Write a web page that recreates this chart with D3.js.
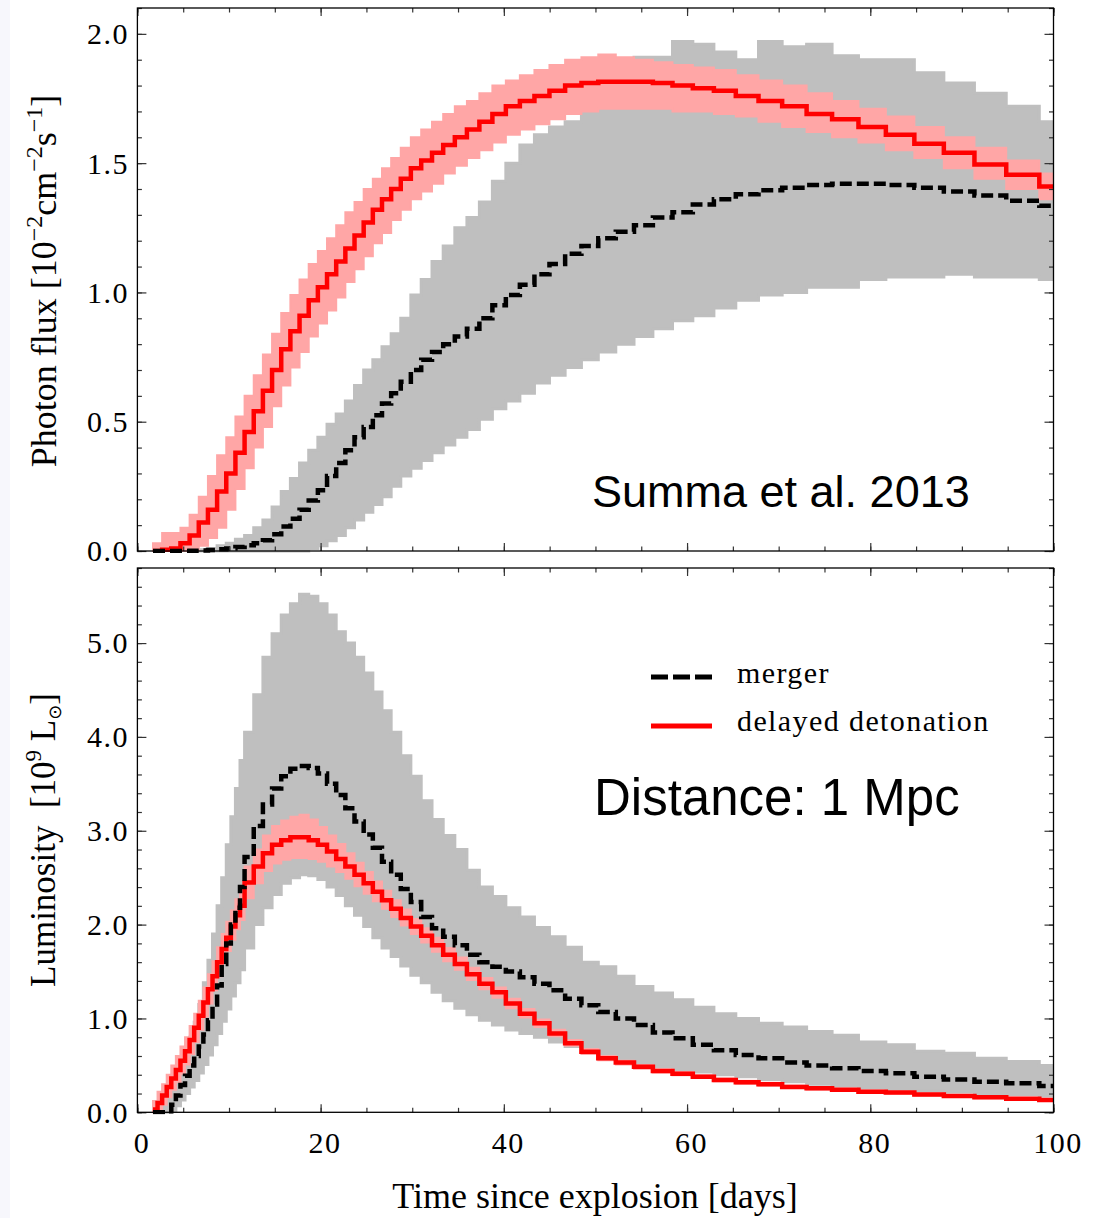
<!DOCTYPE html>
<html>
<head>
<meta charset="utf-8">
<script src="https://d3js.org/d3.v7.min.js"></script>
<style>
  body { margin: 0; background: #fff; }
  svg { display: block; }
  .serif { font-family: 'Liberation Serif', 'Times New Roman', serif; }
  .sans { font-family: 'Liberation Sans', Arial, sans-serif; }
</style>
</head>
<body>
<div id="chart"></div>
<script>
// time bin edges [days] of the step curves, top panel
var fluxEdges = [1.7, 2.7, 3.7, 4.7, 5.7, 6.7, 7.7, 8.7, 9.7, 10.7,
  11.7, 12.7, 13.7, 14.7, 15.7, 16.7, 17.7, 18.7, 19.7, 20.7,
  21.7, 22.7, 23.7, 24.7, 25.7, 26.7, 27.7, 28.75, 29.85, 30.98,
  32.16, 33.38, 34.65, 35.97, 37.33, 38.75, 40.22, 41.75, 43.34, 44.98,
  46.69, 48.47, 50.31, 52.22, 54.21, 56.27, 58.41, 60.63, 62.93, 65.32,
  67.80, 70.38, 73.05, 75.83, 78.71, 81.70, 84.81, 88.03, 91.37, 94.84,
  98.45, 102.19];

// bottom panel: finer bins during the early rise
var lumEdges = [1.7, 2.2, 2.7, 3.2, 3.7, 4.2, 4.7, 5.2, 5.7, 6.2,
  6.7, 7.2, 7.7, 8.2, 8.7, 9.2, 9.7, 10.2, 10.7, 11.2,
  11.7, 12.7, 13.7, 14.7, 15.7, 16.7, 17.7, 18.7, 19.7, 20.7,
  21.7, 22.7, 23.7, 24.7, 25.7, 26.7, 27.7, 28.75, 29.85, 30.98,
  32.16, 33.38, 34.65, 35.97, 37.33, 38.75, 40.22, 41.75, 43.34, 44.98,
  46.69, 48.47, 50.31, 52.22, 54.21, 56.27, 58.41, 60.63, 62.93, 65.32,
  67.80, 70.38, 73.05, 75.83, 78.71, 81.70, 84.81, 88.03, 91.37, 94.84,
  98.45, 102.19];

// top panel: photon flux [1e-2 cm^-2 s^-1]
var fluxDdtMean = [0.00, 0.005, 0.01, 0.03, 0.06, 0.11, 0.16, 0.23, 0.30, 0.38,
  0.46, 0.54, 0.62, 0.70, 0.78, 0.85, 0.91, 0.97, 1.02, 1.07,
  1.12, 1.17, 1.22, 1.27, 1.32, 1.36, 1.40, 1.44, 1.48, 1.51,
  1.54, 1.57, 1.60, 1.63, 1.66, 1.69, 1.72, 1.74, 1.76, 1.78,
  1.80, 1.81, 1.815, 1.815, 1.815, 1.81, 1.80, 1.79, 1.78, 1.76,
  1.74, 1.72, 1.69, 1.67, 1.64, 1.61, 1.575, 1.54, 1.495, 1.455,
  1.41];
var fluxDdtHi = [0.03, 0.07, 0.07, 0.09, 0.14, 0.21, 0.29, 0.37, 0.44, 0.52,
  0.60, 0.68, 0.76, 0.84, 0.92, 0.99, 1.05, 1.11, 1.16, 1.21,
  1.26, 1.31, 1.35, 1.40, 1.44, 1.48, 1.52, 1.56, 1.60, 1.63,
  1.66, 1.69, 1.72, 1.74, 1.77, 1.80, 1.82, 1.84, 1.86, 1.88,
  1.90, 1.91, 1.92, 1.91, 1.90, 1.89, 1.88, 1.87, 1.86, 1.84,
  1.82, 1.80, 1.77, 1.74, 1.71, 1.68, 1.64, 1.60, 1.56, 1.51,
  1.46];
var fluxDdtLo = [0.00, 0.00, 0.00, 0.00, 0.005, 0.02, 0.05, 0.09, 0.16, 0.24,
  0.32, 0.40, 0.48, 0.56, 0.64, 0.71, 0.77, 0.83, 0.88, 0.93,
  0.98, 1.04, 1.09, 1.14, 1.19, 1.23, 1.28, 1.32, 1.36, 1.39,
  1.42, 1.46, 1.49, 1.52, 1.55, 1.58, 1.61, 1.63, 1.65, 1.67,
  1.69, 1.70, 1.71, 1.71, 1.71, 1.71, 1.70, 1.70, 1.69, 1.68,
  1.66, 1.64, 1.62, 1.60, 1.58, 1.55, 1.52, 1.48, 1.44, 1.40,
  1.36];
var fluxMergerMean = [0, 0, 0, 0, 0.001, 0.002, 0.004, 0.007, 0.01, 0.015,
  0.022, 0.03, 0.042, 0.065, 0.095, 0.125, 0.16, 0.195, 0.235, 0.29,
  0.34, 0.39, 0.44, 0.48, 0.525, 0.57, 0.61, 0.655, 0.70, 0.74,
  0.77, 0.80, 0.83, 0.86, 0.90, 0.95, 0.99, 1.03, 1.07, 1.11,
  1.15, 1.18, 1.21, 1.235, 1.26, 1.29, 1.31, 1.34, 1.36, 1.38,
  1.395, 1.405, 1.415, 1.42, 1.42, 1.415, 1.405, 1.39, 1.375, 1.355,
  1.335];
var fluxMergerHi = [0, 0, 0, 0, 0, 0.005, 0.01, 0.02, 0.03, 0.045,
  0.06, 0.09, 0.12, 0.17, 0.23, 0.28, 0.34, 0.39, 0.44, 0.49,
  0.53, 0.58, 0.64, 0.70, 0.74, 0.79, 0.84, 0.90, 0.99, 1.05,
  1.12, 1.18, 1.25, 1.29, 1.35, 1.43, 1.50, 1.57, 1.61, 1.64,
  1.66, 1.70, 1.735, 1.735, 1.91, 1.91, 1.97, 1.96, 1.93, 1.90,
  1.97, 1.95, 1.96, 1.915, 1.90, 1.90, 1.85, 1.81, 1.77, 1.72,
  1.66];
var fluxMergerLo = [0, 0, 0, 0, 0, 0, 0, 0, 0, 0,
  0, 0, 0, 0, 0, 0, 0, 0.01, 0.02, 0.04,
  0.06, 0.09, 0.12, 0.15, 0.18, 0.21, 0.25, 0.29, 0.32, 0.35,
  0.38, 0.41, 0.44, 0.47, 0.51, 0.55, 0.58, 0.61, 0.65, 0.68,
  0.71, 0.74, 0.77, 0.80, 0.83, 0.86, 0.89, 0.91, 0.94, 0.97,
  0.99, 1.00, 1.02, 1.02, 1.05, 1.06, 1.06, 1.07, 1.06, 1.06,
  1.05];

// bottom panel: luminosity [1e9 Lsun]
var lumDdtMean = [0.03, 0.10, 0.18, 0.27, 0.36, 0.45, 0.55, 0.65, 0.77, 0.90,
  1.03, 1.17, 1.31, 1.45, 1.60, 1.74, 1.86, 1.98, 2.10, 2.20,
  2.45, 2.62, 2.76, 2.85, 2.90, 2.93, 2.93, 2.90, 2.85, 2.78,
  2.70, 2.62, 2.53, 2.44, 2.35, 2.26, 2.17, 2.07, 1.98, 1.88,
  1.78, 1.68, 1.58, 1.47, 1.37, 1.28, 1.16, 1.05, 0.95, 0.84,
  0.735, 0.645, 0.575, 0.53, 0.485, 0.44, 0.41, 0.38, 0.345, 0.32,
  0.30, 0.27, 0.255, 0.24, 0.22, 0.21, 0.19, 0.175, 0.16, 0.145,
  0.13];
var lumDdtHi = [0.12, 0.22, 0.30, 0.40, 0.50, 0.60, 0.70, 0.80, 0.92, 1.05,
  1.19, 1.33, 1.47, 1.61, 1.76, 1.90, 2.03, 2.15, 2.27, 2.38,
  2.62, 2.80, 2.95, 3.05, 3.11, 3.15, 3.17, 3.12, 3.04, 2.95,
  2.86, 2.76, 2.66, 2.56, 2.46, 2.36, 2.26, 2.16, 2.06, 1.96,
  1.86, 1.75, 1.65, 1.54, 1.43, 1.33, 1.21, 1.10, 0.99, 0.88,
  0.77, 0.675, 0.60, 0.55, 0.505, 0.46, 0.43, 0.395, 0.36, 0.335,
  0.315, 0.285, 0.268, 0.252, 0.232, 0.22, 0.20, 0.185, 0.17, 0.154,
  0.138];
var lumDdtLo = [0.00, 0.02, 0.08, 0.16, 0.24, 0.32, 0.41, 0.51, 0.62, 0.75,
  0.88, 1.02, 1.16, 1.30, 1.45, 1.59, 1.72, 1.84, 1.95, 2.05,
  2.28, 2.44, 2.57, 2.65, 2.69, 2.71, 2.71, 2.70, 2.67, 2.62,
  2.56, 2.49, 2.41, 2.33, 2.25, 2.17, 2.08, 1.99, 1.90, 1.81,
  1.71, 1.61, 1.52, 1.41, 1.31, 1.22, 1.11, 1.01, 0.91, 0.81,
  0.71, 0.62, 0.555, 0.51, 0.465, 0.425, 0.395, 0.365, 0.33, 0.305,
  0.285, 0.258, 0.243, 0.228, 0.21, 0.20, 0.18, 0.166, 0.151, 0.137,
  0.122];
var lumMergerMean = [0, 0, 0, 0.01, 0.08, 0.18, 0.29, 0.39, 0.50, 0.60,
  0.70, 0.83, 0.98, 1.15, 1.35, 1.58, 1.80, 2.00, 2.18, 2.40,
  2.72, 3.05, 3.28, 3.45, 3.58, 3.66, 3.69, 3.67, 3.61, 3.50,
  3.38, 3.24, 3.10, 2.96, 2.82, 2.67, 2.53, 2.38, 2.24, 2.08,
  1.96, 1.87, 1.78, 1.68, 1.60, 1.55, 1.50, 1.44, 1.37, 1.30,
  1.21, 1.14, 1.07, 1.00, 0.93, 0.85, 0.79, 0.72, 0.66, 0.61,
  0.575, 0.53, 0.50, 0.47, 0.44, 0.415, 0.38, 0.35, 0.325, 0.31,
  0.28];
var lumMergerHi = [0, 0.03, 0.10, 0.18, 0.28, 0.40, 0.52, 0.66, 0.80, 0.96,
  1.15, 1.38, 1.62, 1.90, 2.20, 2.50, 2.85, 3.15, 3.45, 3.75,
  4.05, 4.45, 4.85, 5.10, 5.30, 5.42, 5.52, 5.50, 5.42, 5.30,
  5.12, 5.00, 4.85, 4.68, 4.48, 4.28, 4.05, 3.80, 3.58, 3.32,
  3.12, 2.95, 2.80, 2.58, 2.40, 2.30, 2.18, 2.08, 1.97, 1.87,
  1.76, 1.60, 1.55, 1.45, 1.34, 1.27, 1.20, 1.12, 1.05, 1.00,
  0.95, 0.91, 0.86, 0.82, 0.75, 0.72, 0.65, 0.63, 0.575, 0.54,
  0.50];
var lumMergerLo = [0, 0, 0, 0, 0.02, 0.07, 0.13, 0.20, 0.27, 0.34,
  0.42, 0.51, 0.61, 0.72, 0.84, 0.97, 1.10, 1.24, 1.38, 1.52,
  1.75, 2.00, 2.18, 2.32, 2.44, 2.50, 2.53, 2.52, 2.48, 2.40,
  2.31, 2.20, 2.10, 1.98, 1.86, 1.75, 1.66, 1.56, 1.46, 1.38,
  1.28, 1.19, 1.11, 1.04, 0.98, 0.93, 0.876, 0.84, 0.80, 0.75,
  0.70, 0.645, 0.59, 0.555, 0.52, 0.485, 0.45, 0.43, 0.40, 0.38,
  0.35, 0.325, 0.30, 0.28, 0.26, 0.245, 0.23, 0.215, 0.20, 0.19,
  0.175];

// axis ticks and labels
var timeTicks = [0, 20, 40, 60, 80, 100];
var timeTickLabels = ['0', '20', '40', '60', '80', '100'];
var fluxTicks = [0, 0.5, 1.0, 1.5, 2.0];
var fluxTickLabels = ['0.0', '0.5', '1.0', '1.5', '2.0'];
var lumTicks = [0, 1, 2, 3, 4, 5];
var lumTickLabels = ['0.0', '1.0', '2.0', '3.0', '4.0', '5.0'];

var GREY = '#bfbfbf';
var PINK = '#ffa6a6';
var RED = '#ff0000';

var W = 1093, H = 1218;
var svg = d3.select('#chart').append('svg').attr('width', W).attr('height', H);

svg.append('rect').attr('x', 0).attr('y', 0).attr('width', 10).attr('height', H).attr('fill', '#f7f7fc');

var x = d3.scaleLinear().domain([0, 100]).range([137.4, 1053.5]);

var panels = [
  {
    id: 'flux', top: 8, bottom: 551, yMax: 2.1, minorStep: 0.1,
    ticks: fluxTicks, labels: fluxTickLabels, showTime: false,
    edges: fluxEdges,
    ddt: [fluxDdtMean, fluxDdtLo, fluxDdtHi],
    merger: [fluxMergerMean, fluxMergerLo, fluxMergerHi]
  },
  {
    id: 'lum', top: 568, bottom: 1112.3, yMax: 5.8, minorStep: 0.2,
    ticks: lumTicks, labels: lumTickLabels, showTime: true,
    edges: lumEdges,
    ddt: [lumDdtMean, lumDdtLo, lumDdtHi],
    merger: [lumMergerMean, lumMergerLo, lumMergerHi]
  }
];

panels.forEach(drawPanel);
drawTexts();

function linePoints(edges, values) {
  return edges.map(function (t, i) {
    return { t: t, v: values[Math.min(i, values.length - 1)] };
  });
}

function bandPoints(edges, lo, hi) {
  return edges.map(function (t, i) {
    var k = Math.min(i, hi.length - 1);
    return { t: t, lo: lo[k], hi: hi[k] };
  });
}

function drawPanel(p) {
  var y = d3.scaleLinear().domain([0, p.yMax]).range([p.bottom, p.top]);
  var clipId = 'clip-' + p.id;

  svg.append('clipPath').attr('id', clipId).append('rect')
    .attr('x', x(0)).attr('y', p.top)
    .attr('width', x(100) - x(0)).attr('height', p.bottom - p.top + 2);

  var plot = svg.append('g').attr('clip-path', 'url(#' + clipId + ')');

  var band = d3.area().curve(d3.curveStepAfter)
    .defined(function (d) { return d.hi > 0; })
    .x(function (d) { return x(d.t); })
    .y0(function (d) { return y(d.lo); })
    .y1(function (d) { return y(d.hi); });

  var line = d3.line().curve(d3.curveStepAfter)
    .x(function (d) { return x(d.t); })
    .y(function (d) { return y(d.v); });

  plot.append('path')
    .datum(bandPoints(p.edges, p.merger[1], p.merger[2]))
    .attr('d', band)
    .attr('fill', GREY).attr('stroke', GREY).attr('stroke-width', 3);

  plot.append('path')
    .datum(bandPoints(p.edges, p.ddt[1], p.ddt[2]))
    .attr('d', band)
    .attr('fill', PINK).attr('stroke', PINK).attr('stroke-width', 2);

  plot.append('path')
    .datum(linePoints(p.edges, p.ddt[0]))
    .attr('d', line)
    .attr('fill', 'none').attr('stroke', RED).attr('stroke-width', 4.5);

  plot.append('path')
    .datum(linePoints(p.edges, p.merger[0]))
    .attr('d', line)
    .attr('fill', 'none').attr('stroke', '#000').attr('stroke-width', 4.5)
    .attr('stroke-dasharray', '12,5');

  drawAxes(p, y);
}

function drawAxes(p, y) {
  var g = svg.append('g');
  var xMinor = d3.range(0, 101, 5);
  var yMinor = d3.range(0, p.yMax + 1e-6, p.minorStep);

  function style(sel) {
    sel.select('.domain').remove();
    sel.selectAll('line').attr('stroke', '#333').attr('stroke-width', 1.2);
    sel.selectAll('text')
      .attr('class', 'serif')
      .style('font-size', '30px')
      .style('letter-spacing', '1.5px')
      .attr('fill', '#000');
  }

  // x: bottom and top edges
  var bottom = g.append('g').attr('transform', 'translate(0,' + p.bottom + ')');
  bottom.append('g').call(d3.axisBottom(x).tickValues(xMinor).tickSize(-4.5).tickFormat('')).call(style);
  var bMajor = bottom.append('g').call(d3.axisBottom(x).tickValues(timeTicks).tickSize(-8)
    .tickFormat(function (d, i) { return p.showTime ? timeTickLabels[i] : ''; }));
  bMajor.call(style);
  bMajor.selectAll('text').attr('y', 41).attr('dy', 0).attr('dx', 4);

  var top = g.append('g').attr('transform', 'translate(0,' + p.top + ')');
  top.append('g').call(d3.axisTop(x).tickValues(xMinor).tickSize(-4.5).tickFormat('')).call(style);
  top.append('g').call(d3.axisTop(x).tickValues(timeTicks).tickSize(-8).tickFormat('')).call(style);

  // y: left and right edges
  var left = g.append('g').attr('transform', 'translate(' + x(0) + ',0)');
  left.append('g').call(d3.axisLeft(y).tickValues(yMinor).tickSize(-4.5).tickFormat('')).call(style);
  var lMajor = left.append('g').call(d3.axisLeft(y).tickValues(p.ticks).tickSize(-9)
    .tickFormat(function (d, i) { return p.labels[i]; }));
  lMajor.call(style);
  lMajor.selectAll('text').attr('x', -8.5).attr('dy', '0.33em');

  var right = g.append('g').attr('transform', 'translate(' + x(100) + ',0)');
  right.append('g').call(d3.axisRight(y).tickValues(yMinor).tickSize(-4.5).tickFormat('')).call(style);
  right.append('g').call(d3.axisRight(y).tickValues(p.ticks).tickSize(-9).tickFormat('')).call(style);

  g.append('rect')
    .attr('x', x(0)).attr('y', p.top)
    .attr('width', x(100) - x(0)).attr('height', p.bottom - p.top)
    .attr('fill', 'none').attr('stroke', '#000').attr('stroke-width', 1.3);
}

function drawTexts() {
  // x axis title
  svg.append('text').attr('class', 'serif')
    .attr('x', 595).attr('y', 1208)
    .attr('text-anchor', 'middle')
    .style('font-size', '36px')
    .text('Time since explosion [days]');

  // y axis titles
  var t1 = svg.append('text').attr('class', 'serif')
    .attr('transform', 'translate(56,281) rotate(-90)')
    .attr('text-anchor', 'middle')
    .style('font-size', '36px');
  t1.append('tspan').text('Photon flux [10');
  t1.append('tspan').attr('dy', -14).style('font-size', '24px').text('\u22122');
  t1.append('tspan').attr('dy', 14).text('cm');
  t1.append('tspan').attr('dy', -14).style('font-size', '24px').text('\u22122');
  t1.append('tspan').attr('dy', 14).text('s');
  t1.append('tspan').attr('dy', -14).style('font-size', '24px').text('\u22121');
  t1.append('tspan').attr('dy', 14).text(']');

  var t2 = svg.append('text').attr('class', 'serif')
    .attr('transform', 'translate(55,840) rotate(-90)')
    .attr('text-anchor', 'middle')
    .style('font-size', '35px');
  t2.append('tspan').text('Luminosity\u00a0\u00a0[10');
  t2.append('tspan').attr('dy', -14).style('font-size', '23px').text('9');
  t2.append('tspan').attr('dy', 14).text('\u00a0L');
  t2.append('tspan').attr('dy', 6).style('font-size', '18px')
    .style('font-family', "'DejaVu Sans', sans-serif").text('\u2299');
  t2.append('tspan').attr('dy', -6).text(']');

  // annotations
  svg.append('text').attr('class', 'sans')
    .attr('x', 592).attr('y', 507)
    .style('font-size', '45px')
    .text('Summa et al. 2013');

  svg.append('text').attr('class', 'sans')
    .attr('x', 594).attr('y', 815)
    .style('font-size', '51px')
    .text('Distance: 1 Mpc');

  // legend
  var legend = svg.append('g');
  legend.append('line')
    .attr('x1', 651).attr('x2', 712).attr('y1', 677).attr('y2', 677)
    .attr('stroke', '#000').attr('stroke-width', 5).attr('stroke-dasharray', '17,5');
  legend.append('line')
    .attr('x1', 651).attr('x2', 712).attr('y1', 726).attr('y2', 726)
    .attr('stroke', RED).attr('stroke-width', 5);
  legend.append('text').attr('class', 'serif')
    .attr('x', 737).attr('y', 683)
    .style('font-size', '30px').style('letter-spacing', '1.4px')
    .text('merger');
  legend.append('text').attr('class', 'serif')
    .attr('x', 737).attr('y', 731)
    .style('font-size', '30px').style('letter-spacing', '1.4px')
    .text('delayed detonation');
}
</script>
</body>
</html>
